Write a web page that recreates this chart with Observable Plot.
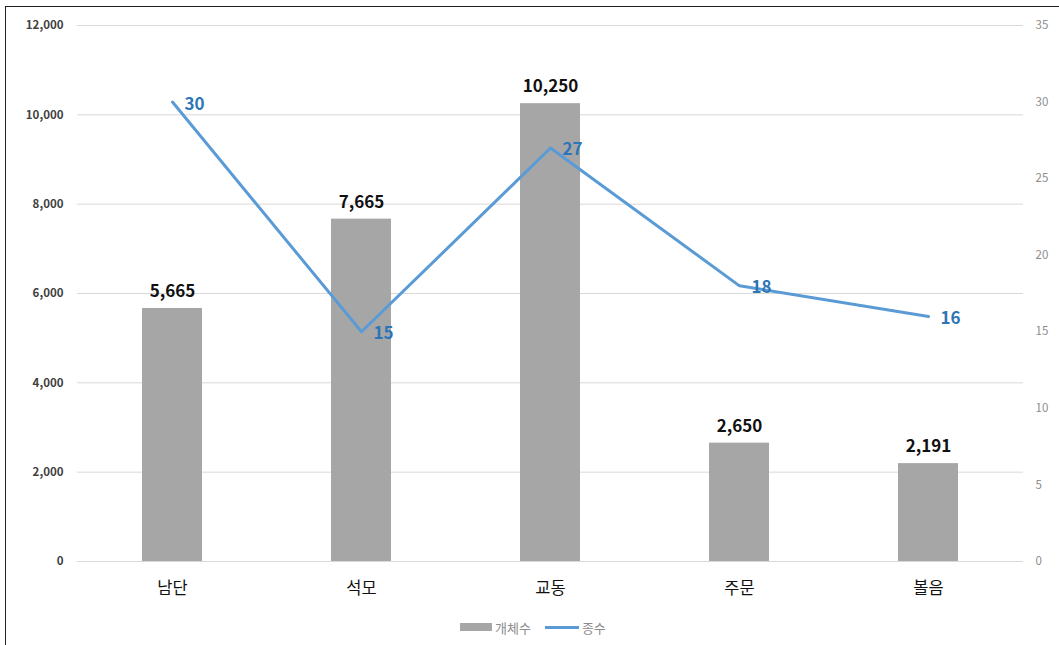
<!DOCTYPE html>
<html>
<head>
<meta charset="utf-8">
<script src="https://cdn.jsdelivr.net/npm/d3@7"></script>
<script src="https://cdn.jsdelivr.net/npm/@observablehq/plot@0.6"></script>
<style>
  html, body { margin: 0; padding: 0; background: #fff; }
  body { width: 1059px; height: 645px; overflow: hidden; position: relative; font-family: "Noto Sans CJK KR", "Noto Sans", sans-serif; }
  #frame { position: absolute; left: 5px; top: 6px; width: 1060px; height: 645px; border-left: 1.5px solid #222; border-top: 1.5px solid #222; }
  #chart { position: absolute; left: 0; top: 0; }
  #legend { position: absolute; left: 460px; top: 612px; height: 30px; display: flex; align-items: center; gap: 14px; font-size: 13px; color: #8c8c8c; }
  .item { display: flex; align-items: center; gap: 3px; }
  .sw-bar { width: 32px; height: 8px; background: #a6a6a6; display: inline-block; }
  .sw-line { width: 34px; height: 3px; background: #5b9bd5; display: inline-block; }
</style>
</head>
<body>
<div id="frame"></div>
<div id="chart"></div>
<div id="legend">
  <span class="item"><span class="sw-bar"></span>개체수</span>
  <span class="item"><span class="sw-line"></span>종수</span>
</div>
<script>
const categories = ["남단", "석모", "교동", "주문", "볼음"];
const individuals = [5665, 7665, 10250, 2650, 2191];   // 개체수 (left axis)
const species = [30, 15, 27, 18, 16];                 // 종수 (right axis)
const leftTicks = [0, 2000, 4000, 6000, 8000, 10000, 12000];
const rightTicks = [0, 5, 10, 15, 20, 25, 30, 35];
const leftMax = 12000, rightMax = 35;

const toLeft = v => v * leftMax / rightMax;
const barData = categories.map((c, i) => ({cat: c, value: individuals[i]}));
const lineData = categories.map((c, i) => ({cat: c, sp: species[i], y: toLeft(species[i])}));

const chart = Plot.plot({
  width: 1059,
  height: 612,
  marginTop: 25,
  marginBottom: 51,
  marginLeft: 77,
  marginRight: 36,
  style: {fontFamily: '"Noto Sans CJK KR", "Noto Sans", sans-serif', background: "transparent"},
  x: {domain: categories, paddingInner: 0.683, paddingOuter: 0.3415, label: null},
  y: {domain: [0, leftMax], label: null},
  marks: [
    Plot.gridY(leftTicks, {stroke: "#d9d9d9", strokeOpacity: 1, strokeWidth: 1}),
    Plot.axisY(leftTicks, {tickSize: 0, tickPadding: 14, tickFormat: d3.format(","), fontSize: 11.5, fontWeight: "bold", fill: "#404040", label: null}),
    Plot.axisY(rightTicks.map(toLeft), {anchor: "right", tickSize: 0, tickPadding: 12, tickFormat: d => Math.round(d * rightMax / leftMax), fontSize: 11.5, fill: "#8c8c8c", label: null}),
    Plot.axisX({tickSize: 0, tickPadding: 21, fontSize: 16.5, fill: "#111", label: null}),
    Plot.barY(barData, {x: "cat", y: "value", fill: "#a6a6a6"}),
    Plot.text(barData, {x: "cat", y: "value", text: d => d3.format(",")(d.value), dy: -17, fontSize: 17, fontWeight: "bold", fill: "#111"}),
    Plot.line(lineData, {x: "cat", y: "y", stroke: "#5b9bd5", strokeWidth: 3, curve: "linear"}),
    Plot.text(lineData, {x: "cat", y: "y", text: d => String(d.sp), dx: 12, dy: 2, textAnchor: "start", fontSize: 17, fontWeight: "bold", fill: "#2e75b6"})
  ]
});
document.getElementById("chart").appendChild(chart);
</script>
</body>
</html>
